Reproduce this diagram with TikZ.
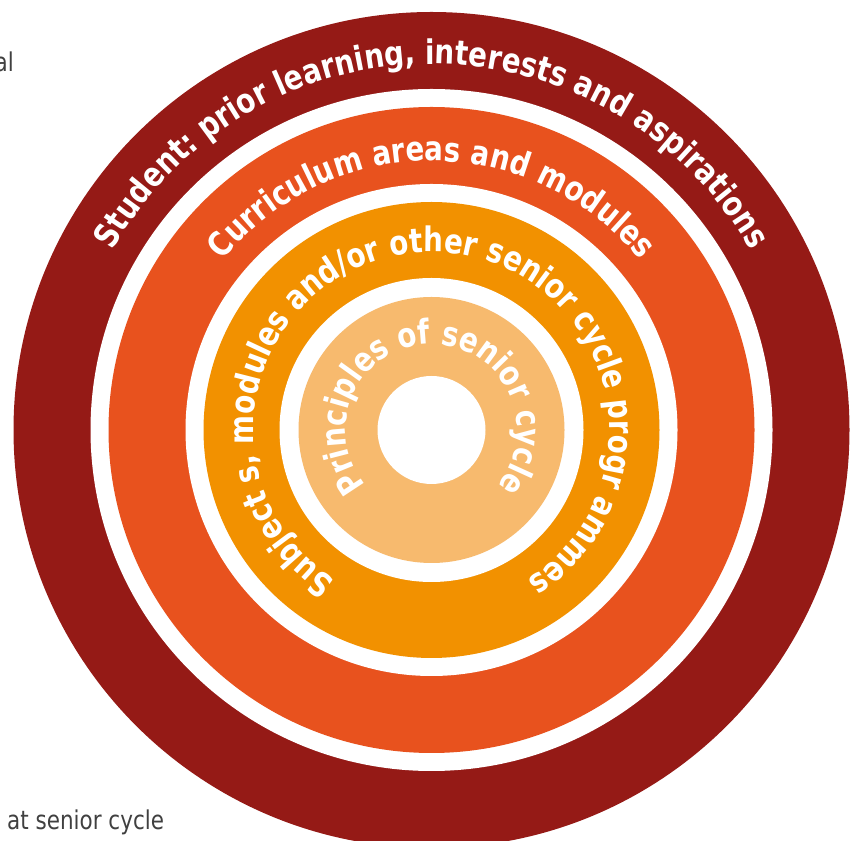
\documentclass[tikz,border=0pt]{standalone}
\usepackage{fontspec}
\setmainfont{DejaVu Sans}
\newfontfamily\ringfont[FakeStretch=0.82]{DejaVu Sans}
\newfontfamily\notefont[FakeStretch=0.83]{DejaVu Sans}
\usetikzlibrary{decorations.text}
\definecolor{ringA}{RGB}{149,26,22}
\definecolor{ringB}{RGB}{232,82,30}
\definecolor{ringC}{RGB}{242,145,0}
\definecolor{ringD}{RGB}{247,186,110}
\definecolor{notegray}{RGB}{64,64,64}
\newcommand\ringtext{\ringfont\bfseries\fontsize{34}{36}\selectfont}
\tikzset{
  ringlabel/.style={decorate, decoration={text along path, text align=center, text color=white, text={|\ringtext|#1}}},
  notelabel/.style={text=notegray, font=\notefont\fontsize{26}{30}\selectfont, inner sep=0pt}
}
\begin{document}
\begin{tikzpicture}[x=1bp,y=1bp]
\useasboundingbox (0,0) rectangle (853,841);
\begin{scope}[shift={(431.5,411)}]
  \coordinate (C) at (0,0);
  \fill[ringA] (C) circle[radius=418];
  \fill[white] (C) circle[radius=341];
  \fill[ringB] (C) circle[radius=323];
  \fill[white] (C) circle[radius=246];
  \fill[ringC] (C) circle[radius=228];
  \fill[white] (C) circle[radius=152];
  \fill[ringD] (C) circle[radius=133];
  \fill[white] (C) circle[radius=54];
  \path[ringlabel={Student: prior learning, interests and aspirations}]
    (180:366) arc[start angle=180, end angle=0, radius=366];
  \path[ringlabel={Curriculum areas and modules}]
    (180:269) arc[start angle=180, end angle=0, radius=269];
  \path[ringlabel={Subject s, modules and/or other senior cycle progr ammes}]
    (250:178) arc[start angle=250, end angle=-70, radius=178];
  \path[ringlabel={Principles of senior cycle}]
    (250:86) arc[start angle=250, end angle=-70, radius=86];
\end{scope}
\node[notelabel, anchor=base west] (foot) at (7,11) {at senior cycle};
\node[notelabel, anchor=base east] (head) at (14,769) {al};
\end{tikzpicture}
\end{document}
